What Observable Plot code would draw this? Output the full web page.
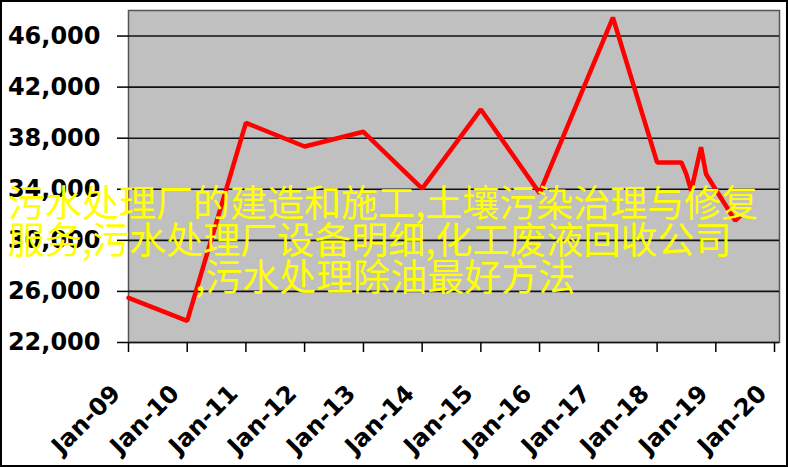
<!DOCTYPE html>
<html><head><meta charset="utf-8">
<script src="https://cdn.jsdelivr.net/npm/d3@7"></script>
<script src="https://cdn.jsdelivr.net/npm/@observablehq/plot@0.6"></script>
<style>
html,body{margin:0;padding:0;background:#fff;}
#wrap{position:relative;width:788px;height:467px;overflow:hidden;}
#wrap svg{display:block;}
#border{position:absolute;left:0;top:0;width:784px;height:463px;border:2px solid #000;pointer-events:none;}
.ov{position:absolute;font-family:"Noto Sans CJK SC";font-size:37px;line-height:37px;color:#ffff00;white-space:nowrap;}
</style></head>
<body><div id="wrap"></div>
<script>
// Data
const dates = ["2009-01","2010-01","2011-01","2012-01","2013-01","2014-01","2015-01","2016-01","2017-04","2018-01","2018-06","2018-07","2018-08","2018-10","2018-11","2019-05","2019-06"];
const values = [25500, 23700, 39200, 37350, 38500, 34050, 40250, 33700, 47450, 36100, 36100, 35200, 33900, 37300, 35200, 31550, 31900];
const yTicks = [22000, 26000, 30000, 34000, 38000, 42000, 46000];
const xTicks = ["2009-01","2010-01","2011-01","2012-01","2013-01","2014-01","2015-01","2016-01","2017-01","2018-01","2019-01","2020-01"];
const captionLines = ["污水处理厂的建造和施工,土壤污染治理与修复", "服务,污水处理厂设备明细,化工废液回收公司", ",污水处理除油最好方法"];
const captionLeft = [8, 8, 195];
const captionTop = [183, 220, 257];

const parse = d3.utcParse("%Y-%m");
const data = dates.map((d, i) => ({date: parse(d), value: values[i]}));
const xTickDates = xTicks.map(parse);

const font = {fontFamily: "DejaVu Sans", fontWeight: "bold", fontSize: 24};

const chart = Plot.plot({
  width: 788,
  height: 467,
  marginLeft: 128,
  marginRight: 9,
  marginTop: 10,
  marginBottom: 125,
  style: {background: "transparent", color: "#000"},
  x: {type: "utc", domain: [parse("2009-01"), parse("2020-02")]},
  y: {domain: [22000, 48000]},
  marks: [
    Plot.frame({fill: "#C0C0C0", stroke: "#555", strokeWidth: 1.5}),
    Plot.gridY(yTicks, {stroke: "#111", strokeOpacity: 1, strokeWidth: 1.6}),
    Plot.line(data, {x: "date", y: "value", stroke: "#ff0000", strokeWidth: 4.5, strokeLinejoin: "miter"}),
    Plot.axisY(yTicks, {tickSize: 11, tickPadding: 17, tickFormat: d3.format(","), label: null, strokeWidth: 1.5, ...font}),
    Plot.axisX(xTickDates, {tickSize: 10, tickFormat: () => "", label: null, strokeWidth: 1.5}),
    Plot.axisX(xTickDates, {tickSize: 0, tickPadding: 47, dx: -12, tickRotate: -45, tickFormat: d3.utcFormat("%b-%y"), label: null, ...font})
  ]
});

const wrap = document.getElementById("wrap");
wrap.appendChild(chart);
captionLines.forEach((t, i) => {
  const d = document.createElement("div");
  d.className = "ov";
  d.style.left = captionLeft[i] + "px";
  d.style.top = captionTop[i] + "px";
  d.textContent = t;
  wrap.appendChild(d);
});
const b = document.createElement("div");
b.id = "border";
wrap.appendChild(b);
</script>
</body></html>
